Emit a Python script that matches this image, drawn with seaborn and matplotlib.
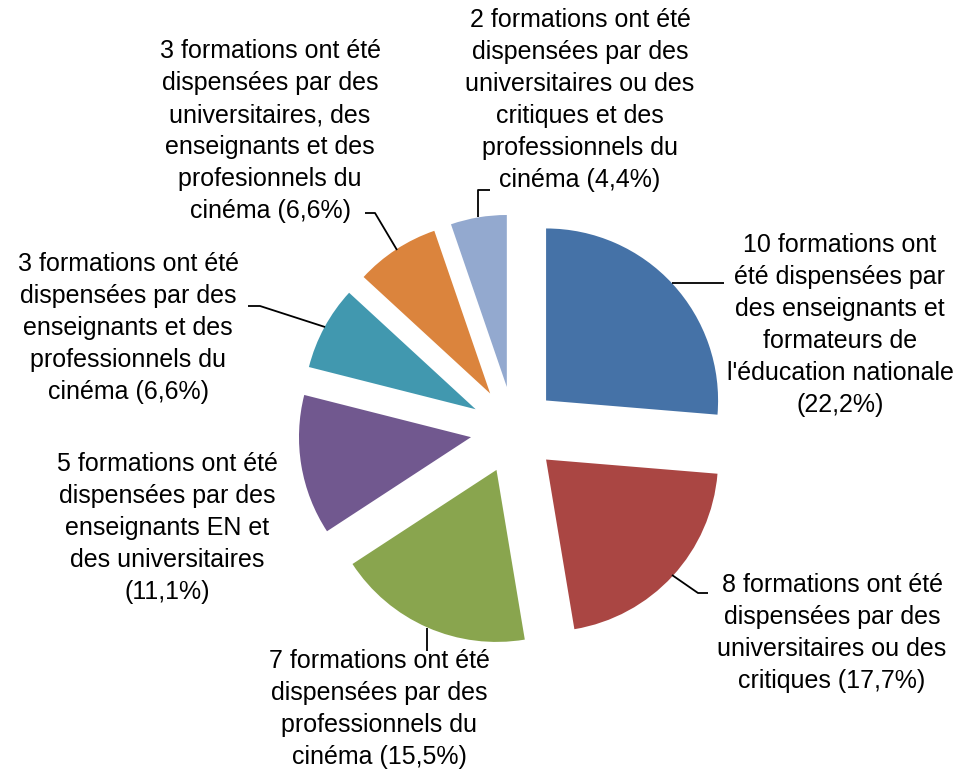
import matplotlib
matplotlib.use("Agg")
import matplotlib.pyplot as plt
import seaborn as sns

# Number of formations per type of trainer (order = clockwise from the top)
counts = [10, 8, 7, 5, 3, 3, 2]
labels = [
    "10 formations ont\nété dispensées par\ndes enseignants et\nformateurs de\nl'éducation nationale\n(22,2%)",
    "8 formations ont été\ndispensées par des\nuniversitaires ou des\ncritiques (17,7%)",
    "7 formations ont été\ndispensées par des\nprofessionnels du\ncinéma (15,5%)",
    "5 formations ont été\ndispensées par des\nenseignants EN et\ndes universitaires\n(11,1%)",
    "3 formations ont été\ndispensées par des\nenseignants et des\nprofessionnels du\ncinéma (6,6%)",
    "3 formations ont été\ndispensées par des\nuniversitaires, des\nenseignants et des\nprofesionnels du\ncinéma (6,6%)",
    "2 formations ont été\ndispensées par des\nuniversitaires ou des\ncritiques et des\nprofessionnels du\ncinéma (4,4%)",
]
colors = ["#4572A7", "#AA4643", "#89A54E", "#71588F", "#4198AF", "#DB843D", "#93A9CF"]

# label centres and leader lines, in pixel coords of the 965x771 picture
label_pos = [(840, 325), (832, 633), (379, 709), (167, 528), (128, 328), (270, 131), (580, 100)]
leaders = [
    [(672, 283), (724, 283)],
    [(672, 575), (698, 593), (708, 593)],
    [(427, 628), (427, 651)],
    None,
    [(325, 327), (260, 306), (248, 306)],
    [(397, 250), (375, 213), (365, 213)],
    [(478, 217), (478, 190), (490, 190)],
]

sns.set_style("white")
plt.rcParams["font.family"] = ["Liberation Sans", "DejaVu Sans"]

fig = plt.figure(figsize=(9.65, 7.71), dpi=100)
ax = fig.add_axes([0, 0, 1, 1])

radius = 172
# explode is in data units here (pixels), since radius is not 1
ax.pie(counts, colors=sns.color_palette(colors), center=(514, 430), radius=radius,
       startangle=-90, counterclock=True, explode=[43.6] * len(counts),
       wedgeprops={"linewidth": 0})

ax.set_xlim(0, 965)
ax.set_ylim(771, 0)
ax.axis("off")

for txt, (x, y), path in zip(labels, label_pos, leaders):
    ax.text(x, y, txt, ha="center", va="center", fontsize=18, linespacing=1.42,
            color="black")
    if path:
        xs, ys = zip(*path)
        ax.plot(xs, ys, color="black", linewidth=1.3, solid_capstyle="butt")

fig.savefig("out.png", dpi=100)
